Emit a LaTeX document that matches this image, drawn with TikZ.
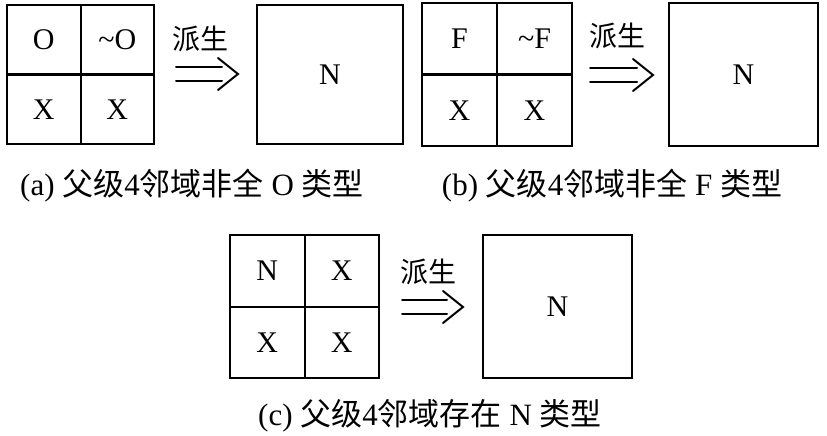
\documentclass[tikz,border=0pt]{standalone}
\usepackage{fontspec}
\setmainfont{Liberation Serif}
\newfontfamily\cjk{Noto Sans CJK SC}
\usetikzlibrary{calc}
\tikzset{
  box/.style={draw, line width=2pt, inner sep=0pt, font=\fontsize{30}{33}\selectfont},
  arr/.style={line width=2pt, line cap=round},
  lbl/.style={font=\cjk\fontsize{28}{30}\selectfont, inner sep=0pt},
  captext/.style={font=\fontsize{31}{34}\selectfont, inner sep=0pt}
}
\newcommand{\dblarrow}[2]{%
  \draw[arr] ($(#1)+(0,-7)$) -- ($(#2)+(-16,-7)$);
  \draw[arr] ($(#1)+(0,7)$) -- ($(#2)+(-16,7)$);
  \draw[arr, line join=miter] ($(#2)+(-20,-16)$) -- (#2) -- ($(#2)+(-20,16)$);
}
\begin{document}
\begin{tikzpicture}[x=1pt,y=-1pt]
\useasboundingbox (0,0) rectangle (827,436);
% (a)
\node[box, minimum width=73.5pt, minimum height=69.5pt] (a11) at (43.75,39.75) {O};
\node[box, minimum width=73.5pt, minimum height=69.5pt] (a12) at (117.25,39.75) {\textasciitilde O};
\node[box, minimum width=73.5pt, minimum height=69.5pt] (a21) at (43.75,109.25) {X};
\node[box, minimum width=73.5pt, minimum height=69.5pt] (a22) at (117.25,109.25) {X};
\node[box, minimum width=146pt, minimum height=139pt] (aN) at (330,74.5) {N};
\coordinate (aS) at (176,74);
\coordinate (aT) at (238,74);
\dblarrow{aS}{aT}
\node[lbl] (aL) at (200,39) {派生};
\node[captext] (aC) at (192,186) {(a) {\cjk 父级}4{\cjk 邻域非全} O {\cjk 类型}};
% (b)
\node[box, minimum width=75pt, minimum height=71.5pt] (b11) at (459.5,38.75) {F};
\node[box, minimum width=75pt, minimum height=71.5pt] (b12) at (534.5,38.75) {\textasciitilde F};
\node[box, minimum width=75pt, minimum height=71.5pt] (b21) at (459.5,110.25) {X};
\node[box, minimum width=75pt, minimum height=71.5pt] (b22) at (534.5,110.25) {X};
\node[box, minimum width=149pt, minimum height=143pt] (bN) at (743.5,74.5) {N};
\coordinate (bS) at (590,75);
\coordinate (bT) at (653,75);
\dblarrow{bS}{bT}
\node[lbl] (bL) at (617,36) {派生};
\node[captext] (bC) at (612,186) {(b) {\cjk 父级}4{\cjk 邻域非全} F {\cjk 类型}};
% (c)
\node[box, minimum width=74.5pt, minimum height=71.5pt] (c11) at (267.25,270.75) {N};
\node[box, minimum width=74.5pt, minimum height=71.5pt] (c12) at (341.75,270.75) {X};
\node[box, minimum width=74.5pt, minimum height=71.5pt] (c21) at (267.25,342.25) {X};
\node[box, minimum width=74.5pt, minimum height=71.5pt] (c22) at (341.75,342.25) {X};
\node[box, minimum width=149pt, minimum height=143pt] (cN) at (557.5,306.5) {N};
\coordinate (cS) at (402,307);
\coordinate (cT) at (463,307);
\dblarrow{cS}{cT}
\node[lbl] (cL) at (428,272) {派生};
\node[captext] (cC) at (430,416) {(c) {\cjk 父级}4{\cjk 邻域存在} N {\cjk 类型}};
\end{tikzpicture}
\end{document}
